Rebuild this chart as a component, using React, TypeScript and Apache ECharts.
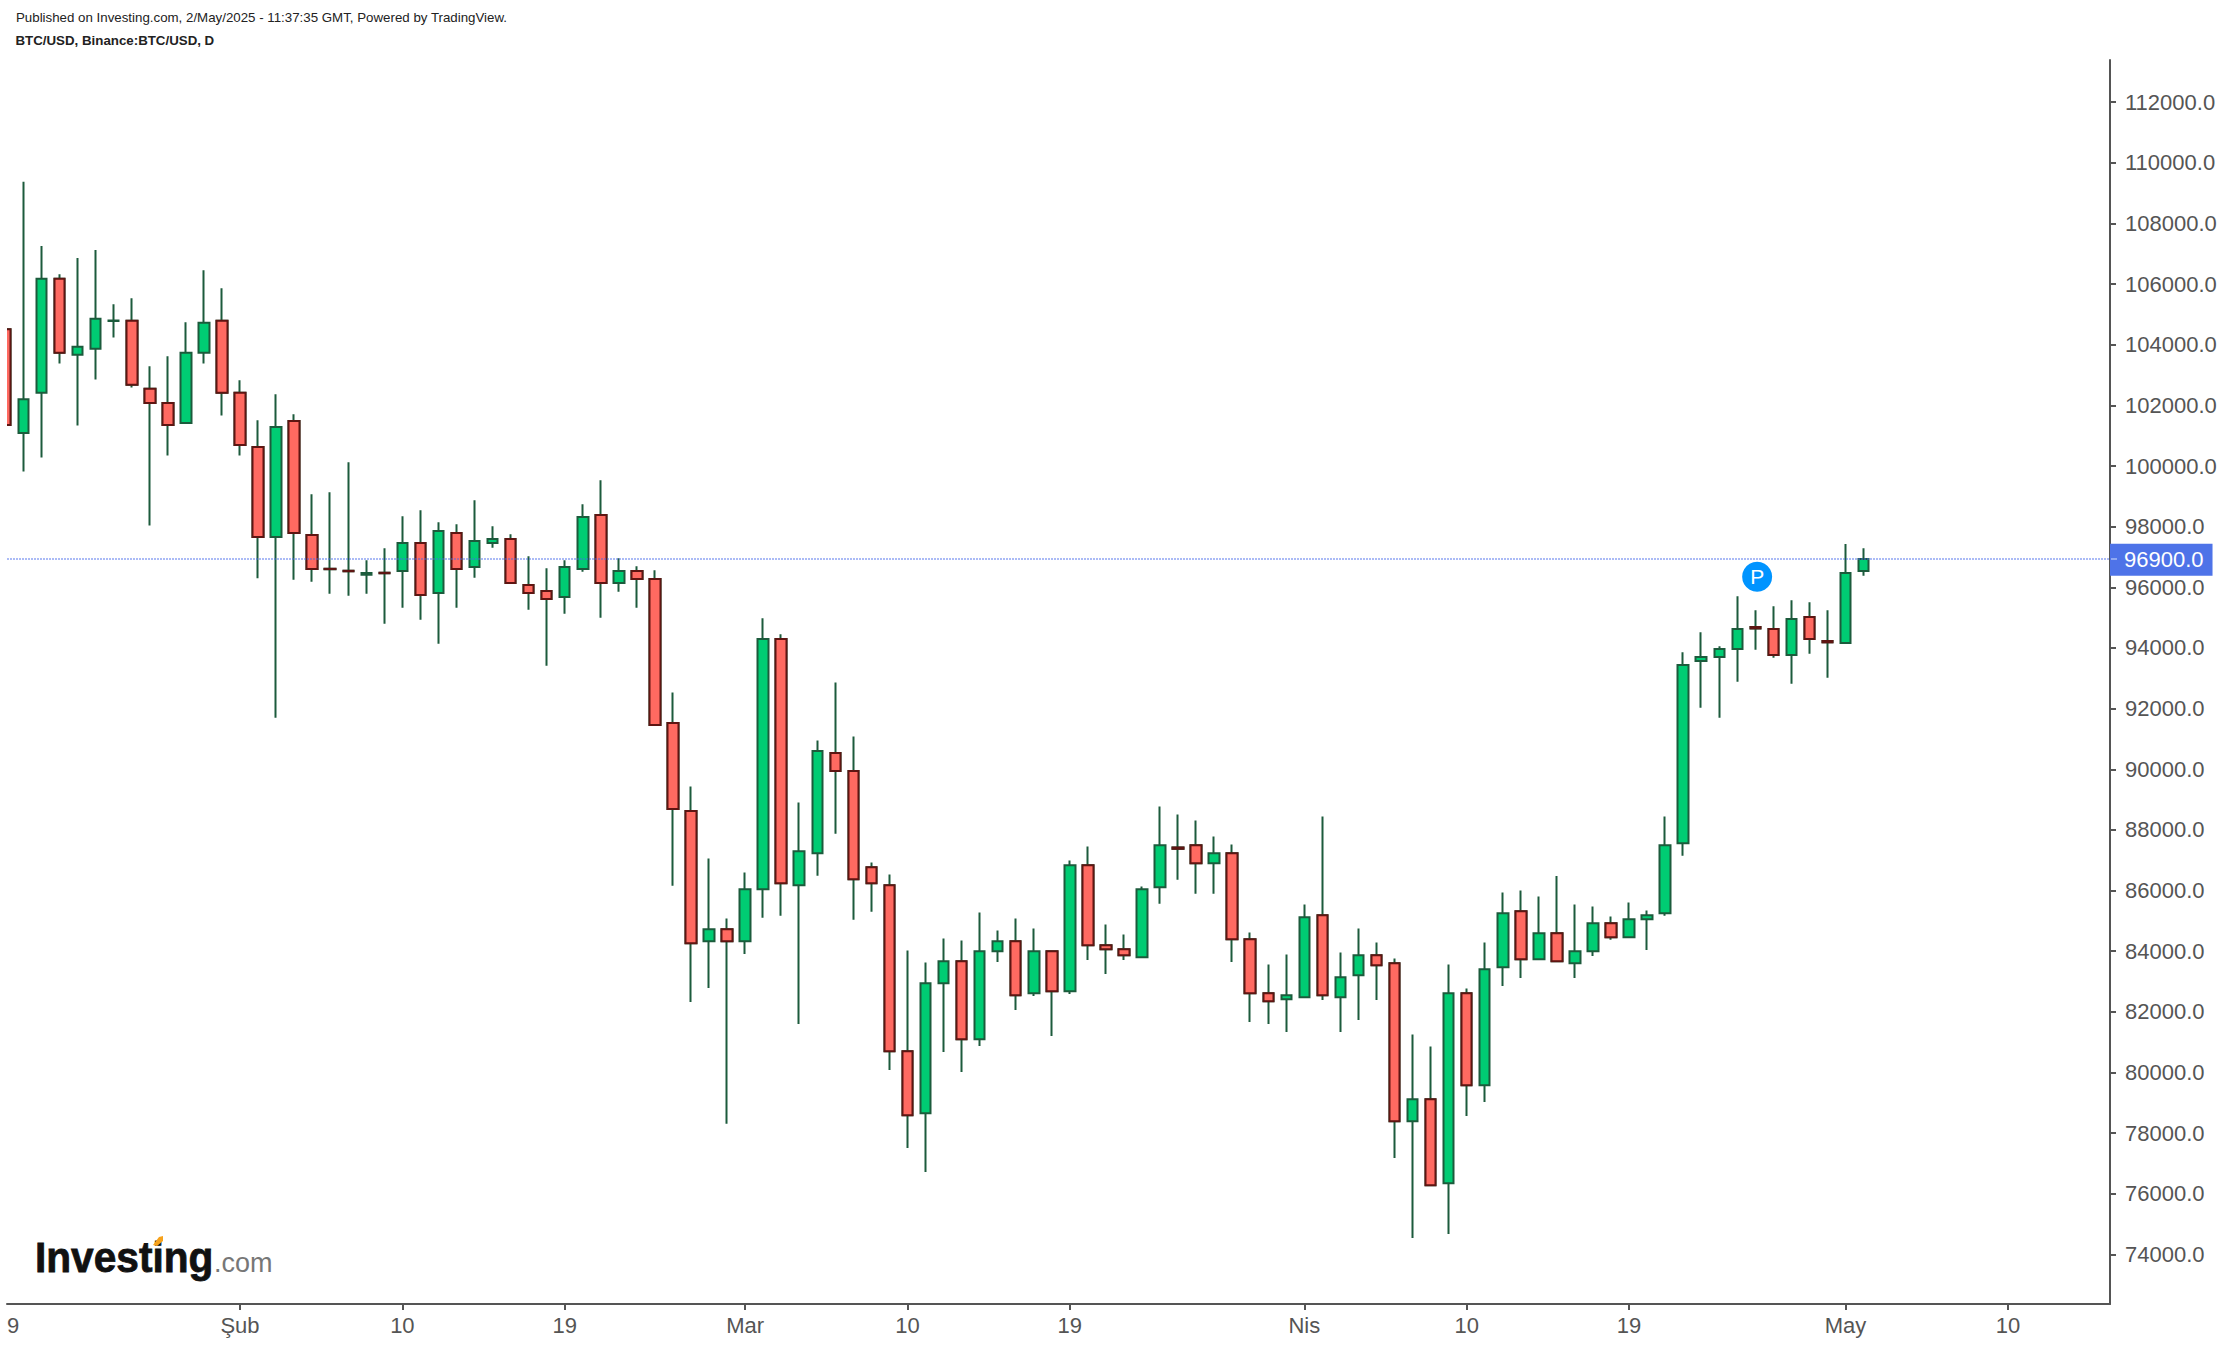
import React, { useEffect, useRef } from "react";
import * as echarts from "echarts";

const FONT = "'Liberation Sans', Arial, sans-serif";

// Daily BTC/USD candles; index 0 = 19 January 2025.
const opens = [
  104514, 101093, 102413, 106175, 103667, 103865, 104780, 104789, 102545, 102083,
  101423, 103733, 104789, 102413, 100631, 97661, 101489, 97727, 96610, 96545,
  96418, 96480, 96539, 97463, 95813, 97793, 96671, 97463, 97595, 96077,
  95879, 95681, 96605, 98387, 96143, 96539, 96275, 91523, 88619, 84329,
  84725, 84329, 86045, 94295, 86177, 87233, 90533, 89939, 86771, 86177,
  80699, 78653, 82943, 83669, 81095, 83999, 84329, 82613, 83999, 82679,
  86837, 84197, 84065, 83801, 86111, 87420, 87497, 86903, 87233, 84395,
  82613, 82415, 82481, 85187, 82481, 83207, 83867, 83603, 78389, 79115,
  76343, 82613, 79577, 83471, 85319, 83735, 84593, 83603, 83999, 84923,
  84461, 85055, 85253, 87563, 93569, 93701, 93965, 94690, 94625, 93767,
  95021, 94230, 94163, 96538,
];
const closes = [
  101357, 102204, 106175, 103733, 103931, 104855, 104800, 102677, 102083, 101357,
  103733, 104723, 102413, 100697, 97661, 101291, 97793, 96605, 96600, 96530,
  96473, 96465, 97463, 95747, 97859, 96605, 97529, 97595, 96143, 95813,
  95615, 96671, 98321, 96143, 96539, 96275, 91457, 88685, 84263, 84725,
  84329, 86045, 94295, 86243, 87299, 90599, 89939, 86375, 86243, 80699,
  78587, 82943, 83669, 81095, 83999, 84329, 82547, 83999, 82679, 86837,
  84197, 84065, 83867, 86045, 87497, 87376, 86903, 87233, 84395, 82613,
  82349, 82547, 85121, 82547, 83141, 83867, 83537, 78389, 79115, 76277,
  82613, 79577, 83405, 85253, 83735, 84593, 83669, 83999, 84923, 84461,
  85055, 85187, 87497, 93437, 93701, 93965, 94625, 94646, 93767, 94955,
  94295, 94185, 96473, 96933,
];
const lows = [
  101357, 99817, 100279, 103381, 101335, 102853, 104239, 102589, 98035, 100345,
  101423, 103381, 101665, 100345, 96300, 91700, 96253, 96187, 95791, 95725,
  95791, 94801, 95329, 94933, 94141, 95329, 96319, 97309, 96143, 95263,
  93415, 95131, 96517, 94999, 95857, 95329, 91457, 86155, 82327, 82789,
  78312, 83911, 85099, 85165, 81601, 86485, 87871, 85033, 85297, 80083,
  77509, 76717, 80677, 80017, 80875, 83647, 82063, 82525, 81205, 82591,
  83713, 83251, 83713, 83801, 85561, 86353, 85891, 85891, 83647, 81667,
  81601, 81337, 82481, 82393, 81337, 81733, 82393, 77179, 74539, 76277,
  74671, 78565, 79027, 82855, 83119, 83735, 83669, 83119, 83845, 84373,
  84461, 84043, 85165, 87145, 92029, 91699, 92887, 93943, 93679, 92821,
  93811, 93019, 94163, 96383,
];
const highs = [
  104514, 109376, 107253, 106329, 106857, 107121, 105339, 105537, 103293, 103623,
  104745, 106461, 105867, 102831, 101511, 102369, 101709, 99069, 99135, 100125,
  96891, 97287, 98343, 98541, 98145, 98079, 98871, 98013, 97749, 97023,
  96627, 96891, 98739, 99531, 96957, 96693, 96561, 92535, 89433, 87057,
  85077, 86595, 94977, 94449, 88905, 90951, 92865, 91083, 86925, 86529,
  84021, 83625, 84417, 84351, 85275, 84681, 85077, 84747, 83999, 86991,
  87453, 84879, 84549, 86133, 88773, 88509, 88311, 87783, 87519, 84615,
  83559, 83889, 85539, 88443, 83955, 84747, 84285, 83757, 81249, 80853,
  83559, 82767, 84285, 85935, 86001, 85803, 86479, 85539, 85473, 85143,
  85605, 85341, 88443, 93855, 94515, 94053, 95703, 95241, 95373, 95571,
  95505, 95241, 97428, 97286,
];

const yTickValues = [
  74000, 76000, 78000, 80000, 82000, 84000, 86000, 88000, 90000, 92000, 94000,
  96000, 98000, 100000, 102000, 104000, 106000, 108000, 110000, 112000,
];
const xTickDays = [13, 22, 31, 41, 50, 59, 72, 81, 90, 102, 111];
const xTickLabels = ["Şub", "10", "19", "Mar", "10", "19", "Nis", "10", "19", "May", "10"];
const firstLabelDay = 0.42;
const firstLabel = "9";

const lastPriceLevel = 96940;
const lastPriceLabel = "96900.0";
const pinDay = 97.1;
const pinPrice = 96350;

const headerLines = [
  "Published on Investing.com, 2/May/2025 - 11:37:35 GMT, Powered by TradingView.",
  "BTC/USD, Binance:BTC/USD, D",
];

export default function App() {
  const ref = useRef<HTMLDivElement>(null);

  useEffect(() => {
    const chart = echarts.init(ref.current!, null, { renderer: "svg" });
    const allCandles = opens.map((o, i) => [i, o, closes[i], lows[i], highs[i]]);
    const downBodies = opens
      .map((o, i) => [i, o, closes[i], Math.min(o, closes[i]), Math.max(o, closes[i])])
      .filter((d) => d[1] > d[2]);

    chart.setOption({
      animation: false,
      backgroundColor: "#ffffff",
      grid: { left: 7, right: 120, top: 60, bottom: 42, containLabel: false },
      xAxis: {
        type: "value",
        min: 0.083,
        max: 116.66,
        splitLine: { show: false },
        axisLine: { onZero: false, lineStyle: { color: "#555555", width: 2 } },
        axisTick: { length: 6, customValues: xTickDays, lineStyle: { color: "#555555", width: 2 } },
        axisLabel: {
          customValues: [firstLabelDay, ...xTickDays],
          color: "#555555",
          fontSize: 22,
          fontFamily: FONT,
          margin: 10,
          formatter: (v: number) => {
            if (v === firstLabelDay) return firstLabel;
            return xTickLabels[xTickDays.indexOf(v)] ?? "";
          },
        },
      },
      yAxis: {
        type: "value",
        position: "right",
        min: 72364,
        max: 113391,
        splitLine: { show: false },
        axisLine: { show: true, onZero: false, lineStyle: { color: "#555555", width: 2 } },
        axisTick: { show: true, length: 6, customValues: yTickValues, lineStyle: { color: "#555555", width: 2 } },
        axisLabel: {
          customValues: yTickValues,
          color: "#555555",
          fontSize: 22,
          fontFamily: FONT,
          margin: 15,
          formatter: (v: number) => v.toFixed(1),
        },
      },
      series: [
        {
          type: "candlestick",
          name: "BTC/USD",
          data: allCandles,
          barWidth: 11,
          clip: true,
          itemStyle: {
            color: "#00CC73",
            color0: "#FF6A61",
            borderColor: "#1C5B3C",
            borderColor0: "#1C5B3C",
            borderWidth: 2,
          },
          markLine: {
            silent: true,
            symbol: "none",
            animation: false,
            z: 6,
            lineStyle: { color: "rgba(70,105,235,0.6)", type: [2, 1], width: 1.5 },
            label: {
              show: true,
              position: "end",
              distance: 0,
              formatter: lastPriceLabel,
              color: "#ffffff",
              backgroundColor: "#4E73E8",
              fontSize: 22,
              fontFamily: FONT,
              padding: [5, 9, 5, 14],
              offset: [0, 1],
            },
            data: [{ yAxis: lastPriceLevel }],
          },
          z: 2,
        },
        {
          type: "candlestick",
          name: "BTC/USD down bodies",
          data: downBodies,
          barWidth: 11,
          clip: true,
          itemStyle: {
            color: "#00CC73",
            color0: "#FF6A61",
            borderColor: "#5E1512",
            borderColor0: "#5E1512",
            borderWidth: 2,
          },
          z: 3,
        },
        {
          type: "scatter",
          name: "pin",
          data: [[pinDay, pinPrice]],
          symbol: "circle",
          symbolSize: 30,
          itemStyle: { color: "#0094FF", opacity: 1 },
          label: {
            show: true,
            position: "inside",
            formatter: "P",
            color: "#ffffff",
            fontSize: 21,
            fontFamily: FONT,
          },
          z: 4,
        },
      ],
      graphic: [
        // Mask for the part of the first candle that falls left of the plot.
        { type: "rect", z: 50, shape: { x: 0, y: 200, width: 7, height: 1100 }, style: { fill: "#ffffff" } },
        { type: "line", z: 60, shape: { x1: 2111, y1: 559, x2: 2117, y2: 559 }, style: { stroke: "#A9BBF4", lineWidth: 1.5 } },
        {
          type: "text", z: 60, x: 16, y: 17,
          style: { text: headerLines[0], fill: "#222222", font: `13.3px ${FONT}`, textAlign: "left", textVerticalAlign: "middle" },
        },
        {
          type: "text", z: 60, x: 15.5, y: 40,
          style: { text: headerLines[1], fill: "#222222", font: `bold 13.3px ${FONT}`, textAlign: "left", textVerticalAlign: "middle" },
        },
        {
          type: "text", z: 60, x: 35, y: 1279, scaleX: 0.945,
          style: { text: "Investing", fill: "#111111", stroke: "#111111", lineWidth: 0.8, font: `bold 43px ${FONT}`, textAlign: "left", textVerticalAlign: "bottom" },
        },
        {
          type: "text", z: 60, x: 214, y: 1276,
          style: { text: ".com", fill: "#777777", font: `27px ${FONT}`, textAlign: "left", textVerticalAlign: "bottom" },
        },
        {
          type: "polygon", z: 61,
          shape: { points: [[153, 1245], [159, 1237], [163, 1236], [163, 1241], [157, 1246]] },
          style: { fill: "#F7A21B" },
        },
      ],
    });
    return () => chart.dispose();
  }, []);

  return <div ref={ref} style={{ position: "absolute", left: 0, top: 0, width: 2230, height: 1346 }} />;
}
